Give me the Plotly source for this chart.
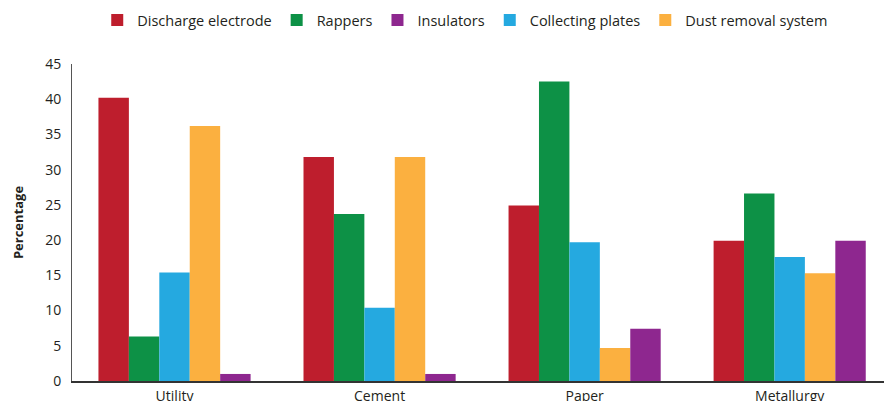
import plotly.graph_objects as go

categories = ["Utility", "Cement", "Paper", "Metallurgy"]
discharge = [40.2, 31.8, 24.9, 19.9]
rappers = [6.3, 23.7, 42.5, 26.6]
collecting = [15.4, 10.4, 19.7, 17.6]
dust = [36.2, 31.8, 4.7, 15.3]
insulators = [1.0, 1.0, 7.4, 19.9]
y_ticks = [0, 5, 10, 15, 20, 25, 30, 35, 40, 45]

series = [
    ("Discharge electrode", discharge, "#BE1E2D", 1),
    ("Rappers", rappers, "#0D9146", 2),
    ("Collecting plates", collecting, "#25A9E0", 4),
    ("Dust removal system", dust, "#FBB040", 5),
    ("Insulators", insulators, "#8E278F", 3),
]

fig = go.Figure()
for name, vals, color, rank in series:
    fig.add_trace(go.Bar(x=categories, y=vals, name=name, marker_color=color,
                         marker_line_width=0, legendrank=rank))

font = "Open Sans, Noto Sans, sans-serif"
fig.update_layout(
    width=884, height=401,
    margin=dict(l=72, r=0, t=64, b=20, autoexpand=False),
    paper_bgcolor="white", plot_bgcolor="white",
    barmode="group", bargap=0.258, bargroupgap=0,
    font=dict(family=font, size=14, color="#231F20"),
    showlegend=True,
    legend=dict(orientation="h", xref="container", yref="container",
                x=0.11, y=0.99, xanchor="left", yanchor="top",
                font=dict(size=14.5, color="#231F20"), traceorder="normal",
                itemwidth=30),
    xaxis=dict(range=[-0.5, 3.46], showline=True, linecolor="#333333", linewidth=1.5,
               ticks="", showgrid=False, tickfont=dict(size=14), ticklabelstandoff=1,
               automargin=False),
    yaxis=dict(range=[0, 45], tickvals=y_ticks, showline=True, linecolor="#555555",
               linewidth=1, showgrid=False, zeroline=False, ticks="",
               tickfont=dict(size=14), ticklabelstandoff=7, automargin=False,
               title=dict(text="<b>Percentage</b>", font=dict(size=13), standoff=18)),
)

fig.write_html("out.html")
